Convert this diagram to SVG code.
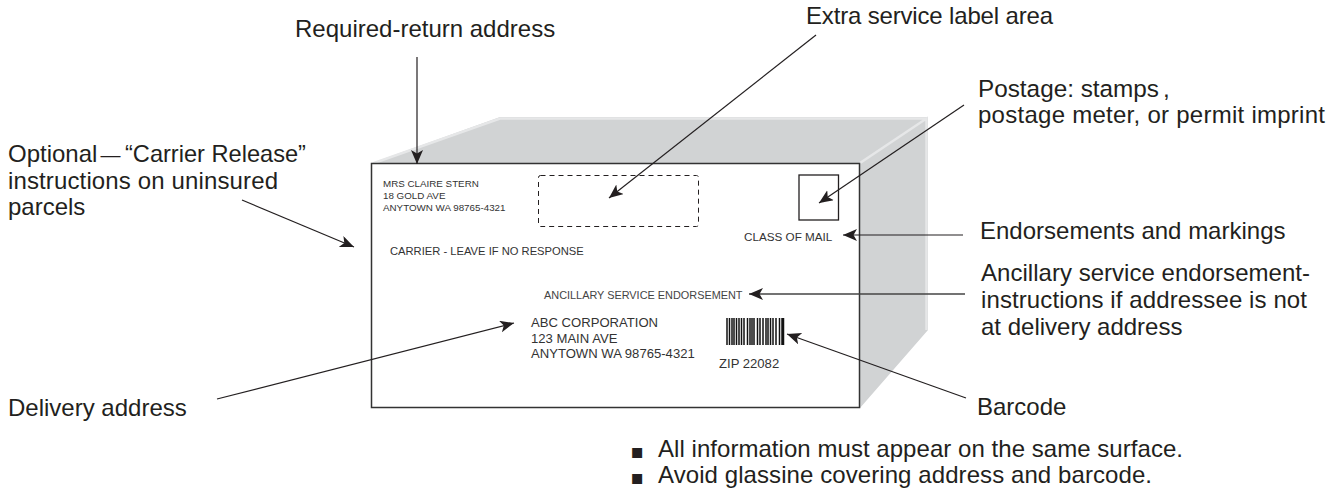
<svg xmlns="http://www.w3.org/2000/svg" width="1342" height="490" viewBox="0 0 1342 490">
<style>
text{font-family:"Liberation Sans",Arial,sans-serif;fill:#231f20}
.l{font-size:24px}
.b{font-size:20.500px}
.s{font-size:9.8px;fill:#333}
.m{font-size:13.1px;fill:#333}
.c{stroke:#231f20;stroke-width:1.2;fill:none;marker-end:url(#a)}
</style>
<defs><marker id="a" markerUnits="userSpaceOnUse" markerWidth="16" markerHeight="14" refX="14" refY="6" orient="auto"><path d="M0 0L14 6L0 12L3.5 6Z" fill="#231f20"/></marker></defs>
<rect width="1342" height="490" fill="#fff"/>
<g id="box">
<path d="M372 163L500 117H928V330L860 408V163Z" fill="#d1d3d4"/>
<path d="M374 163L500 118.500H926.500M860 163L926.500 118.500V330" fill="none" stroke="#e6e7e8" stroke-width="2.500"/>
<rect x="371.500" y="163.500" width="488" height="244" fill="#fff" stroke="#333" stroke-width="1.500"/>
</g>
<g id="return-address"><text class="s" x="383" y="187">MRS CLAIRE STERN</text><text class="s" x="383" y="199">18 GOLD AVE</text><text class="s" x="383" y="211">ANYTOWN WA 98765-4321</text></g>
<g id="extra-label"><rect x="538.500" y="175.500" width="160" height="51" rx="2" fill="none" stroke="#231f20" stroke-dasharray="5 4"/></g>
<g id="postage"><rect x="799" y="175" width="39.500" height="45" fill="none" stroke="#231f20" stroke-width="1.300"/></g>
<g id="carrier"><text x="390" y="255" style="font-size:11.200px;fill:#333">CARRIER - LEAVE IF NO RESPONSE</text></g>
<g id="class"><text x="744" y="241" style="font-size:11.700px;fill:#333">CLASS OF MAIL</text></g>
<g id="ancillary"><text x="544" y="299" style="font-size:10.900px;fill:#444">ANCILLARY SERVICE ENDORSEMENT</text></g>
<g id="delivery"><text class="m" x="531" y="327">ABC CORPORATION</text><text class="m" x="531" y="343">123 MAIN AVE</text><text class="m" x="531" y="358">ANYTOWN WA 98765-4321</text></g>
<g id="barcode"><path fill="none" stroke="#111" stroke-width="1.500" d="M727 318v27M729.500 318v27M732 318v27M734 318v27M736.500 318v27M739 318v27M741.500 318v27M744 318v27M747.500 318v27M750 318v27M752 318v27M754 318v27M757.500 318v27M760 318v27M763 318v27M766 318v27M768 318v27M770.500 318v27M773 318v27M776 318v27M779.500 318v27M782 318v27M783.500 318v27"/><text class="m" x="719" y="368">ZIP 22082</text></g>
<g id="connectors">
<path class="c" d="M417 57V164"/>
<path class="c" d="M816 35L609 198"/>
<path class="c" d="M964 105L819 203"/>
<path class="c" d="M963 235H843"/>
<path class="c" style="stroke:#444;stroke-width:1.500" d="M965 294H749"/>
<path class="c" d="M966 398L787 334"/>
<path class="c" d="M217 399L514 323"/>
<path class="c" d="M242 200L354 247"/>
</g>
<g id="labels">
<text class="l" x="295" y="37">Required-return address</text>
<text class="l" x="806" y="24" textLength="247">Extra service label area</text>
<text class="l" x="978" y="97" style="font-size:24.300px">Postage: stamps<tspan dx="4">,</tspan></text>
<text class="l" x="978" y="123" textLength="347">postage meter, or permit imprint</text>
<text class="l" x="8" y="162">Optional<tspan dx="3" style="font-size:20px">—</tspan><tspan x="125" style="font-size:23.600px">“Carrier Release”</tspan></text>
<text class="l" x="8" y="189" textLength="270">instructions on uninsured</text>
<text class="l" x="8" y="215">parcels</text>
<text class="l" x="980" y="239">Endorsements and markings</text>
<text class="l" x="981" y="281" textLength="329">Ancillary service endorsement-</text>
<text class="l" x="981" y="308" textLength="326">instructions if addressee is not</text>
<text class="l" x="981" y="335">at delivery address</text>
<text class="l" x="8" y="416">Delivery address</text>
<text class="l" x="977" y="415">Barcode</text>
<text class="b" x="631" y="459">■</text><text class="l" x="658" y="457" textLength="525">All information must appear on the same surface.</text>
<text class="b" x="631" y="485">■</text><text class="l" x="658" y="483" textLength="494">Avoid glassine covering address and barcode.</text>
</g>
</svg>
